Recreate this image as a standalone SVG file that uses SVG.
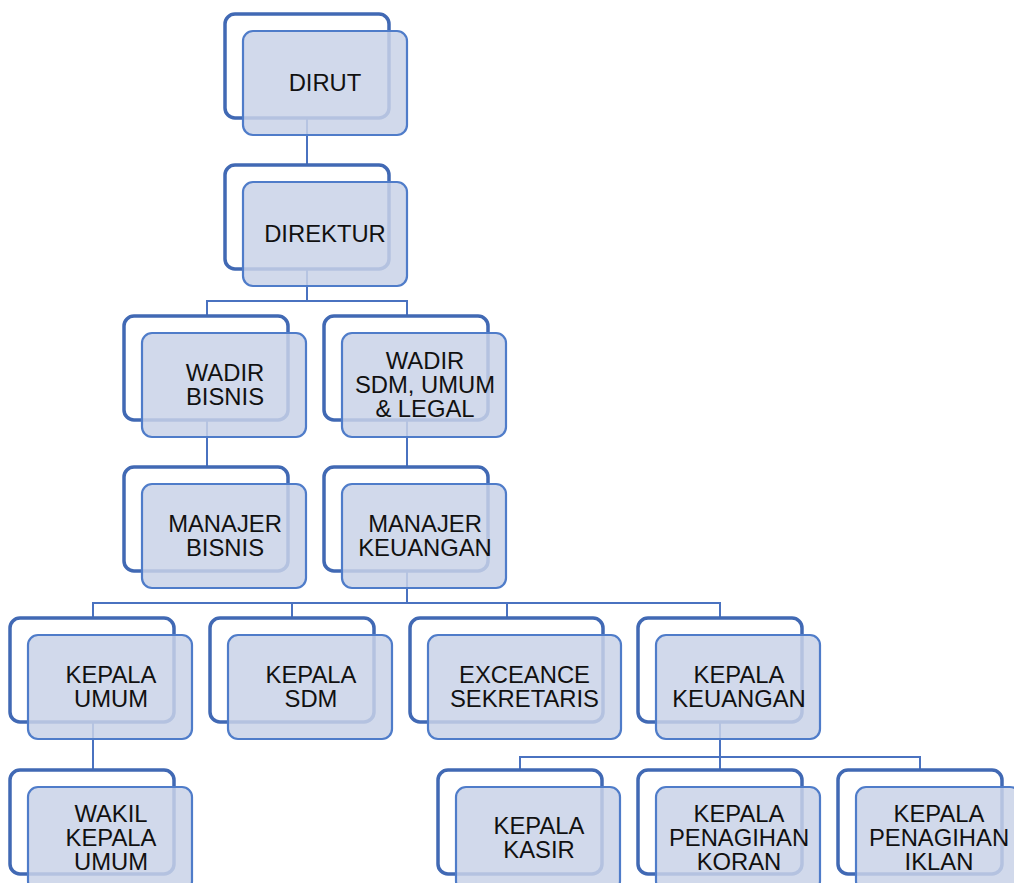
<svg xmlns="http://www.w3.org/2000/svg" width="1014" height="883" viewBox="0 0 1014 883">
  <style>
    .back { fill: #ffffff; stroke: #4169b4; stroke-width: 3.5; }
    .front { fill: #c9d2e8; fill-opacity: 0.85; stroke: #4f7cc9; stroke-width: 2.2; }
    .lbl { font-family: "Liberation Sans", Arial, sans-serif; font-size: 23.8px; fill: #111111; text-anchor: middle; }
    .conn { fill: none; stroke: #4a72c0; stroke-width: 2; }
  </style>
  <defs>
    <rect id="backBox" class="back" x="0" y="0" width="164" height="104" rx="10"/>
    <rect id="frontBox" class="front" x="18" y="17" width="164" height="104" rx="10"/>
  </defs>
  <rect width="1014" height="883" fill="#ffffff"/>

  <!-- connectors: drawn first so the translucent cards sit on top -->
  <g id="connectors" class="conn">
    <path d="M307 118 V165"/>
    <path d="M307 269 V301 M207 315 V301 H407 V315"/>
    <path d="M207 419 V467"/>
    <path d="M407 419 V467"/>
    <path d="M407 571 V603 M93 618 V603 H720 V618 M292 603 V618 M507 603 V618"/>
    <path d="M93 722 V770"/>
    <path d="M720 722 V757 M520 770 V757 H920 V770 M720 757 V770"/>
  </g>

  <g id="n-dirut" transform="translate(225,14)">
    <use href="#backBox"/><use href="#frontBox"/>
    <text class="lbl" x="100" y="77.4">DIRUT</text>
  </g>
  <g id="n-direktur" transform="translate(225,165)">
    <use href="#backBox"/><use href="#frontBox"/>
    <text class="lbl" x="100" y="77.4">DIREKTUR</text>
  </g>
  <g id="n-wadir-bisnis" transform="translate(124,316)">
    <use href="#backBox"/><use href="#frontBox"/>
    <text class="lbl" x="101" y="65.4">WADIR</text>
    <text class="lbl" x="101" y="89.4">BISNIS</text>
  </g>
  <g id="n-wadir-sdm" transform="translate(324,316)">
    <use href="#backBox"/><use href="#frontBox"/>
    <text class="lbl" x="101" y="53.4">WADIR</text>
    <text class="lbl" x="101" y="77.4">SDM, UMUM</text>
    <text class="lbl" x="101" y="101.4">&amp; LEGAL</text>
  </g>
  <g id="n-manajer-bisnis" transform="translate(124,467)">
    <use href="#backBox"/><use href="#frontBox"/>
    <text class="lbl" x="101" y="65.4">MANAJER</text>
    <text class="lbl" x="101" y="89.4">BISNIS</text>
  </g>
  <g id="n-manajer-keuangan" transform="translate(324,467)">
    <use href="#backBox"/><use href="#frontBox"/>
    <text class="lbl" x="101" y="65.4">MANAJER</text>
    <text class="lbl" x="101" y="89.4">KEUANGAN</text>
  </g>
  <g id="n-kepala-umum" transform="translate(10,618)">
    <use href="#backBox"/><use href="#frontBox"/>
    <text class="lbl" x="101" y="65.4">KEPALA</text>
    <text class="lbl" x="101" y="89.4">UMUM</text>
  </g>
  <g id="n-kepala-sdm" transform="translate(210,618)">
    <use href="#backBox"/><use href="#frontBox"/>
    <text class="lbl" x="101" y="65.4">KEPALA</text>
    <text class="lbl" x="101" y="89.4">SDM</text>
  </g>
  <!-- this card is wider than the others to fit its longer label -->
  <g id="n-exceance-sekretaris" transform="translate(410,618)">
    <rect class="back" x="0" y="0" width="193" height="104" rx="10"/>
    <rect class="front" x="18" y="17" width="193" height="104" rx="10"/>
    <text class="lbl" x="114.5" y="65.4">EXCEANCE</text>
    <text class="lbl" x="114.5" y="89.4">SEKRETARIS</text>
  </g>
  <g id="n-kepala-keuangan" transform="translate(638,618)">
    <use href="#backBox"/><use href="#frontBox"/>
    <text class="lbl" x="101" y="65.4">KEPALA</text>
    <text class="lbl" x="101" y="89.4">KEUANGAN</text>
  </g>
  <g id="n-wakil-kepala-umum" transform="translate(10,770)">
    <use href="#backBox"/><use href="#frontBox"/>
    <text class="lbl" x="101" y="52">WAKIL</text>
    <text class="lbl" x="101" y="76">KEPALA</text>
    <text class="lbl" x="101" y="100">UMUM</text>
  </g>
  <g id="n-kepala-kasir" transform="translate(438,770)">
    <use href="#backBox"/><use href="#frontBox"/>
    <text class="lbl" x="101" y="64">KEPALA</text>
    <text class="lbl" x="101" y="88">KASIR</text>
  </g>
  <g id="n-kepala-penagihan-koran" transform="translate(638,770)">
    <use href="#backBox"/><use href="#frontBox"/>
    <text class="lbl" x="101" y="52">KEPALA</text>
    <text class="lbl" x="101" y="76">PENAGIHAN</text>
    <text class="lbl" x="101" y="100">KORAN</text>
  </g>
  <g id="n-kepala-penagihan-iklan" transform="translate(838,770)">
    <use href="#backBox"/><use href="#frontBox"/>
    <text class="lbl" x="101" y="52">KEPALA</text>
    <text class="lbl" x="101" y="76">PENAGIHAN</text>
    <text class="lbl" x="101" y="100">IKLAN</text>
  </g>
</svg>
